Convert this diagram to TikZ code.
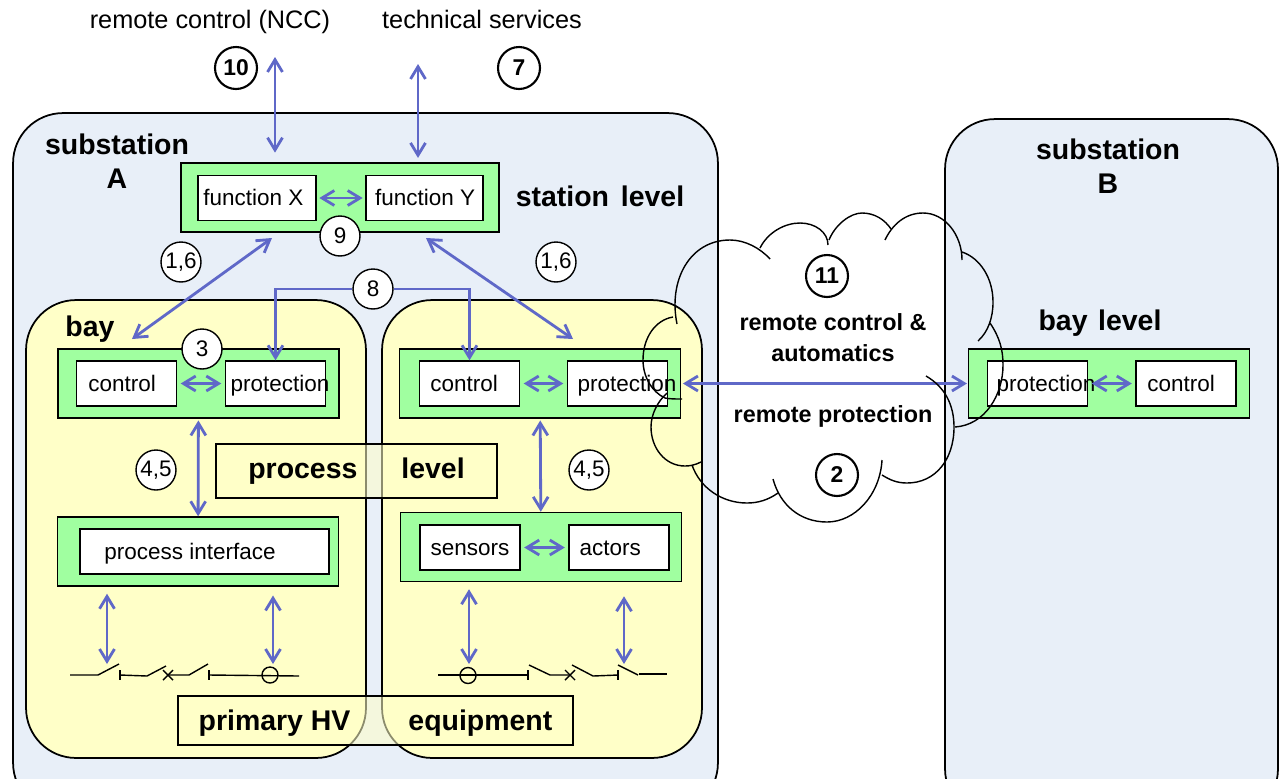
\documentclass[tikz,border=0pt]{standalone}
\usepackage{fontspec}
\setmainfont{Liberation Sans}
\usetikzlibrary{arrows.meta}

\definecolor{subblue}{HTML}{E8EFF8}
\definecolor{bayyellow}{HTML}{FFFFC8}
\definecolor{boxgreen}{HTML}{A0FFA0}
\definecolor{linkblue}{HTML}{5F68C8}

\newcommand{\offtext}[2]{\makebox[0pt]{\hspace{#1}\hspace{#1}#2}}

\tikzset{
  link/.style={linkblue,line width=1.6pt,{Straight Barb[length=7pt,width=8.5pt]}-{Straight Barb[length=7pt,width=8.5pt]}},
  plainlink/.style={linkblue,line width=1.6pt,-{Straight Barb[length=7pt,width=8.5pt]}},
  subst/.style={draw,line width=1pt,fill=subblue,rounded corners=1cm,inner sep=0pt,minimum width=#1,minimum height=14cm},
  bay/.style={draw,line width=1pt,fill=bayyellow,rounded corners=1cm,inner sep=0pt,minimum width=#1,minimum height=9.16cm},
  greenbox/.style={draw,line width=.8pt,fill=boxgreen,inner sep=0pt,minimum width=5.62cm,minimum height=1.38cm},
  whitebox/.style={draw,line width=.8pt,fill=white,inner sep=0pt,minimum width=2cm,minimum height=.9cm,text height=10pt,text depth=1pt,font=\fontsize{12.8pt}{15pt}\selectfont},
  levelbox/.style={draw,line width=.9pt,fill=bayyellow,fill opacity=.55,text opacity=1,inner sep=0pt,font=\fontsize{16.2pt}{19pt}\selectfont\bfseries},
  num/.style={draw,circle,fill=white,line width=.8pt,inner sep=0pt,minimum size=.8cm,font=\fontsize{12.8pt}{15pt}\selectfont},
  boldnum/.style={num,line width=1.2pt,minimum size=.84cm,font=\fontsize{13pt}{15pt}\selectfont\bfseries},
  title/.style={font=\fontsize{16.2pt}{19.3pt}\selectfont\bfseries,align=center,inner sep=0pt},
  cloudtext/.style={font=\fontsize{13.3pt}{17.6pt}\selectfont\bfseries,align=center,inner sep=0pt},
  toptext/.style={font=\fontsize{14.4pt}{17pt}\selectfont,inner sep=0pt,text height=11pt,text depth=3pt},
  lobe/.style={line width=.8pt},
  gear/.style={line width=.8pt}
}

\begin{document}
\begin{tikzpicture}[x=0.02cm,y=-0.02cm]
  \useasboundingbox (0,0) rectangle (1283,778);
  \fill [white] (0,0) rectangle (1283,778);

  \node [subst=14.1cm] at (365.5,463) (suba){};
  \node [subst=6.66cm] at (1111.5,469) (subb){};
  \node [bay=6.8cm] at (196,529) (baya){};
  \node [bay=6.4cm] at (542,529) (bayb){};

  \node [greenbox,minimum width=6.36cm] at (340,197.5) (gst){};
  \node [greenbox] at (198.5,383.5) (gca){};
  \node [greenbox] at (540,383.5) (gcb){};
  \node [greenbox] at (1109,383.5) (gsb){};
  \node [greenbox] at (198,551.5) (gpi){};
  \node [greenbox] at (541,547) (gsa){};

  \node [whitebox,minimum width=2.36cm] at (257,198) (fx){\offtext{-2pt}{function X}};
  \node [whitebox,minimum width=2.34cm] at (424.5,198) (fy){\offtext{.3pt}{function Y}};
  \node [whitebox] at (126.5,383.5) (ca){\offtext{-2.5pt}{control}};
  \node [whitebox] at (275.5,383.5) (pa){\offtext{2.5pt}{protection}};
  \node [whitebox] at (469.5,383.5) (cb){\offtext{-3pt}{control}};
  \node [whitebox] at (617.5,383.5) (pb){\offtext{5.4pt}{protection}};
  \node [whitebox] at (1037.5,383.5) (pc){\offtext{4.8pt}{protection}};
  \node [whitebox] at (1186,383.5) (cc){\offtext{-2.8pt}{control}};
  \node [whitebox,minimum width=4.98cm] at (204.5,551.5) (pi){\offtext{-8.2pt}{process interface}};
  \node [whitebox] at (470,547.5) (se){sensors};
  \node [whitebox] at (619,547.5) (ac){\offtext{-5pt}{actors}};

  \node [levelbox,minimum width=5.62cm,minimum height=1.08cm,text height=11.5pt,text depth=3.5pt] at (356.5,471) (lvl){process\hspace{25pt}level};
  \node [levelbox,minimum width=7.9cm,minimum height=.98cm,text height=13pt,text depth=2.2pt] at (375.5,720.5) (hv){primary HV\hspace{33pt}equipment};

  \node [title] at (117,161) (ta){substation\\A};
  \node [title] at (1108,166.5) (tb){substation\\B};
  \node [title] at (600,196) (sl){station\hspace{6.7pt}level};
  \node [title] at (90,329) (by){bay};
  \node [title] at (1100,323) (bl){bay\hspace{6pt}level};
  \node [toptext] at (210,21) (ncc){remote control (NCC)};
  \node [toptext] at (482,21) (ts){technical services};
  \node [cloudtext] at (833,337.5) (rc){remote control \&\\automatics};
  \node [cloudtext] at (833,416) (rp){remote protection};

  \coordinate (nt) at (275,57);
  \coordinate (tt) at (418,64);
  \coordinate (la) at (272,238);
  \coordinate (lb) at (132,339);
  \coordinate (ra) at (426,238);
  \coordinate (rb) at (573,339);
  \coordinate (sa) at (107,664);
  \coordinate (sb) at (273,664);
  \coordinate (sc) at (469,664);
  \coordinate (sd) at (624,664);

  \draw [link,shorten >=5.5pt] (nt) -- (nt |- gst.north);
  \draw [link,shorten >=2.5pt] (tt) -- (tt |- gst.north);
  \draw [link,shorten >=1.5pt,shorten <=1.5pt] (fx) -- (fy);
  \draw [link] (la) -- (lb);
  \draw [link] (ra) -- (rb);
  \draw [link,shorten >=2pt,shorten <=2pt] (ca) -- (pa);
  \draw [link,shorten >=2pt,shorten <=2pt] (cb) -- (pb);
  \draw [link,shorten >=2pt,shorten <=2pt] (se) -- (ac);
  \draw [link,shorten >=2pt,shorten <=2pt] (pc) -- (cc);
  \draw [link,shorten <=1pt] (gca) -- (gpi);
  \draw [link,shorten <=1pt] (gcb) -- (gsa);
  \draw [link,shorten >=4pt] (sa) -- (sa |- gpi.south);
  \draw [link,shorten >=5pt] (sb) -- (sb |- gpi.south);
  \draw [link,shorten >=4pt] (sc) -- (sc |- gsa.south);
  \draw [link,shorten >=8pt] (sd) -- (sd |- gsa.south);
  \draw [link,shorten >=.5pt,shorten <=1pt] (gcb.east |- pb) -- (gsb.west |- pc);

  \node [num] at (340,236) (n9){9};
  \node [num] at (181,262) (n16a){1,6};
  \node [num] at (556,262) (n16b){1,6};
  \node [num] at (373,289) (n8){8};
  \node [num] at (202,349) (n3){3};
  \node [num] at (156,470) (n45a){4,5};
  \node [num] at (589,470) (n45b){4,5};
  \node [boldnum] at (236,68) (n10){10};
  \node [boldnum] at (519,68) (n7){7};
  \node [boldnum] at (827,276) (n11){11};
  \node [boldnum] at (837,475) (n2){2};

  \draw [plainlink] (n8.west) -| (pa.north);
  \draw [plainlink] (n8.east) -| (cb.north);

  \draw [lobe] (677,324) .. controls (668,280) and (690,240) .. (730,240) .. controls (745,240) and (760,248) .. (770,259);
  \draw [lobe] (760,248) .. controls (768,232) and (785,223) .. (800,223) .. controls (815,223) and (828,232) .. (828,245);
  \draw [lobe] (829,240) .. controls (835,225) and (850,213) .. (862,213) .. controls (875,213) and (885,220) .. (891,229);
  \draw [lobe] (885,240) .. controls (892,225) and (905,213) .. (923,213) .. controls (945,213) and (962,235) .. (962,260);
  \draw [lobe] (962,252) .. controls (980,258) and (993,278) .. (993,302) .. controls (993,318) and (988,332) .. (978,341);
  \draw [lobe] (990,323) .. controls (1000,338) and (1003,350) .. (1003,365) .. controls (1003,395) and (985,425) .. (955,427);
  \draw [lobe] (926,376) .. controls (945,387) and (954,405) .. (954,427) .. controls (954,460) and (935,483) .. (907,483) .. controls (897,483) and (890,480) .. (882,475);
  \draw [lobe] (882,460) .. controls (880,495) and (855,522) .. (827,522) .. controls (800,522) and (780,505) .. (773,479);
  \draw [lobe] (778,493) .. controls (768,500) and (758,503) .. (747,503) .. controls (722,503) and (700,488) .. (692,465);
  \draw [lobe] (701,462) .. controls (695,465) and (690,466) .. (685,466) .. controls (665,466) and (651,448) .. (651,427) .. controls (651,415) and (657,402) .. (667,393);
  \draw [lobe] (682,399) .. controls (675,399) and (670,399) .. (665,398) .. controls (652,392) and (643,377) .. (643,360) .. controls (643,338) and (655,320) .. (673,317);

  \draw [gear] (70,675) -- (98,675) -- (119,664);
  \draw [gear] (120,670) -- (120,680);
  \draw [gear] (120,675) -- (147,676) -- (166,666);
  \draw [gear] (163,670) -- (173,680);
  \draw [gear] (163,680) -- (173,670);
  \draw [gear] (168,675) -- (189,675) -- (208,664);
  \draw [gear] (209,670) -- (209,680);
  \draw [gear] (209,675) -- (299,676);
  \draw [gear] (270,675) circle [radius=8];

  \draw [gear] (438,675) -- (528,675);
  \draw [gear] (468,675.5) circle [radius=8];
  \draw [gear] (528,670) -- (528,680);
  \draw [gear] (529,665) -- (550,675) -- (570,675);
  \draw [gear] (565,670) -- (575,680);
  \draw [gear] (565,680) -- (575,670);
  \draw [gear] (572,665) -- (593,676) -- (618,675);
  \draw [gear] (618,670) -- (618,680);
  \draw [gear] (618,665) -- (638,675);
  \draw [gear] (639,674) -- (667,674);
\end{tikzpicture}
\end{document}
